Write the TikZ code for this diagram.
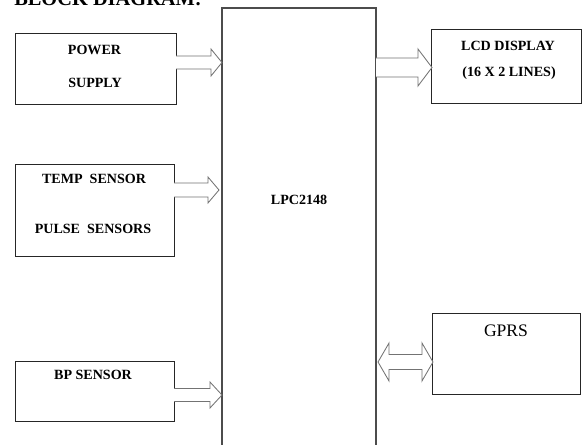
\documentclass[tikz,border=0pt]{standalone}
\usepackage{fontspec}
\setmainfont{Liberation Serif}
\usetikzlibrary{calc}

\tikzset{
  box/.style={draw=black!85, line width=0.7pt, inner sep=0pt, outer sep=0pt},
  lbl/.style={font=\bfseries\fontsize{10}{12}\selectfont, inner sep=0pt, anchor=base},
  blockarrow/.style={draw=black!55, line width=0.6pt, fill=white, line join=miter},
}

% hollow block arrow: from, to, shaft half width, head half width, head length
\newcommand{\hollowarrow}[5]{%
  \draw[blockarrow] ($(#1)+(0,#3)$) -- ($(#2)+(-#5,#3)$) -- ($(#2)+(-#5,#4)$) -- (#2)
    -- ($(#2)+(-#5,-#4)$) -- ($(#2)+(-#5,-#3)$) -- ($(#1)+(0,-#3)$);}
% hollow double block arrow
\newcommand{\twowayarrow}[5]{%
  \draw[blockarrow] (#1) -- ($(#1)+(#5,#4)$) -- ($(#1)+(#5,#3)$) -- ($(#2)+(-#5,#3)$)
    -- ($(#2)+(-#5,#4)$) -- (#2) -- ($(#2)+(-#5,-#4)$) -- ($(#2)+(-#5,-#3)$)
    -- ($(#1)+(#5,-#3)$) -- ($(#1)+(#5,-#4)$) -- cycle;}

\begin{document}
\begin{tikzpicture}[x=0.025cm, y=-0.025cm]
    \useasboundingbox (0,0) rectangle (583,445);

    % 見出し
    \node[font=\bfseries\fontsize{14.5}{16}\selectfont, inner sep=0pt, anchor=base west] (title) at (14,6) {BLOCK DIAGRAM:};

    % ブロック
    \node[box, minimum width=4cm, minimum height=1.75cm] (pwr) at (96,69) {};
    \node[box, minimum width=3.95cm, minimum height=2.275cm] (temp) at (95,210.5) {};
    \node[box, minimum width=3.95cm, minimum height=1.5cm] (bp) at (95,391) {};
    \node[box, draw=black!70, line width=0.8pt, minimum width=3.85cm, minimum height=11.175cm] (lpc) at (299,231.5) {};
    \node[box, minimum width=3.725cm, minimum height=1.825cm] (lcd) at (506.5,66.5) {};
    \node[box, minimum width=3.675cm, minimum height=2cm] (gprs) at (506.5,354) {};

    % 文字
    \node[lbl] (pwrA) at (94.5,55) {POWER};
    \node[lbl] (pwrB) at (95,88) {SUPPLY};
    \node[lbl] (tempA) at (94,184) {TEMP\ \ SENSOR};
    \node[lbl] (tempB) at (93,233) {PULSE\ \ SENSORS};
    \node[lbl] (bpA) at (93,379) {BP SENSOR};
    \node[lbl] (lpcA) at (299,205) {LPC2148};
    \node[lbl] (lcdA) at (508,51) {LCD DISPLAY};
    \node[lbl] (lcdB) at (509,77) {(16 X 2 LINES)};
    \node[lbl, font=\fontsize{12.5}{14}\selectfont] (gprsA) at (506,336) {GPRS};

    % 矢印の端点
    \coordinate (pwrout) at (pwr.east |- 0,62.5);
    \coordinate (pwrin) at (lpc.west |- 0,62.5);
    \coordinate (tempout) at (temp.east |- 0,190);
    \coordinate (tempin) at ($(lpc.west |- 0,190)+(-3,0)$);
    \coordinate (bpout) at (bp.east |- 0,395);
    \coordinate (bpin) at (lpc.west |- 0,395);
    \coordinate (lcdout) at (lpc.east |- 0,67.5);
    \coordinate (lcdin) at (lcd.west |- 0,67.5);
    \coordinate (gprsA) at ($(lpc.east |- 0,362)+(2,0)$);
    \coordinate (gprsB) at (gprs.west |- 0,362);

    % 矢印
    \hollowarrow{pwrout}{pwrin}{6.5}{13.5}{11}
    \hollowarrow{tempout}{tempin}{7}{13}{11}
    \hollowarrow{bpout}{bpin}{6.5}{13}{12}
    \hollowarrow{lcdout}{lcdin}{9.5}{18.5}{14}
    \twowayarrow{gprsA}{gprsB}{7.5}{19}{11}
\end{tikzpicture}
\end{document}
